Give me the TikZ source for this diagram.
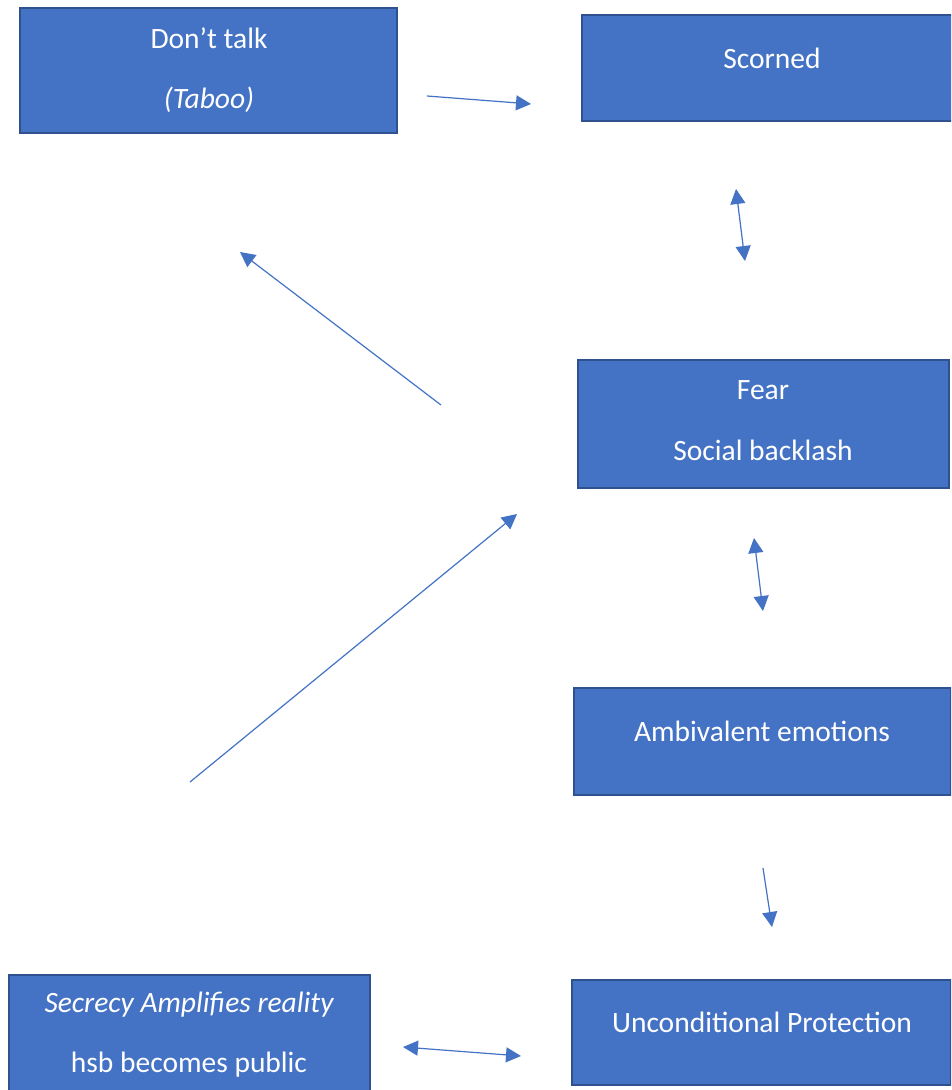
\documentclass[tikz,border=0pt]{standalone}
\usepackage{fontspec}
\setmainfont{Carlito}
\usetikzlibrary{arrows.meta}
\definecolor{boxfill}{HTML}{4472C4}
\definecolor{boxline}{HTML}{2F528F}
\definecolor{arr}{HTML}{4472C4}
\tikzset{
  box/.style={draw=boxline, line width=2pt, fill=boxfill},
  lbl/.style={text=white, font=\fontsize{29.5}{34}\selectfont, inner sep=0pt},
  conn/.style={draw=arr, line width=1.2pt, -{Triangle[length=15pt,width=15pt]}},
  dconn/.style={draw=arr, line width=1.2pt, {Triangle[length=15pt,width=15pt]}-{Triangle[length=15pt,width=15pt]}},
}
\begin{document}
\begin{tikzpicture}[x=1pt,y=-1pt]
\clip (0,0) rectangle (951,1090);
\fill[white] (0,0) rectangle (951,1090);
% boxes
\draw[box] (20,8) rectangle (397,133);
\draw[box] (582,15) rectangle (965,121);
\draw[box] (578,360) rectangle (949,488);
\draw[box] (574,688) rectangle (951,795);
\draw[box] (572,980) rectangle (951,1085);
\draw[box] (9,975) rectangle (370,1100);
% texts
\node[lbl] (t1a) at (209,38) {Don’t talk};
\node[lbl] (t1b) at (209,100) {\itshape (Taboo)};
\node[lbl] (t2) at (772,58) {Scorned};
\node[lbl] (t3a) at (763,390) {Fear};
\node[lbl] (t3b) at (763,450) {Social backlash};
\node[lbl] (t4) at (762,731) {Ambivalent emotions};
\node[lbl] (t5) at (762,1022) {Unconditional Protection};
\node[lbl] (t6a) at (189,1005) {\itshape Secrecy Amplifies reality};
\node[lbl] (t6b) at (189,1065) {hsb becomes public};
% connector endpoints
\coordinate (a1s) at (427,96);  \coordinate (a1e) at (531,104);
\coordinate (a2s) at (736,189); \coordinate (a2e) at (745,261);
\coordinate (a3s) at (441,405); \coordinate (a3e) at (240,252);
\coordinate (a4s) at (190,782); \coordinate (a4e) at (517,514);
\coordinate (a5s) at (754,538); \coordinate (a5e) at (763,611);
\coordinate (a6s) at (763,868); \coordinate (a6e) at (772,927);
\coordinate (a7s) at (403,1047); \coordinate (a7e) at (521,1056);
\draw[conn] (a1s) -- (a1e);
\draw[dconn] (a2s) -- (a2e);
\draw[conn] (a3s) -- (a3e);
\draw[conn] (a4s) -- (a4e);
\draw[dconn] (a5s) -- (a5e);
\draw[conn] (a6s) -- (a6e);
\draw[dconn] (a7s) -- (a7e);
\end{tikzpicture}
\end{document}
